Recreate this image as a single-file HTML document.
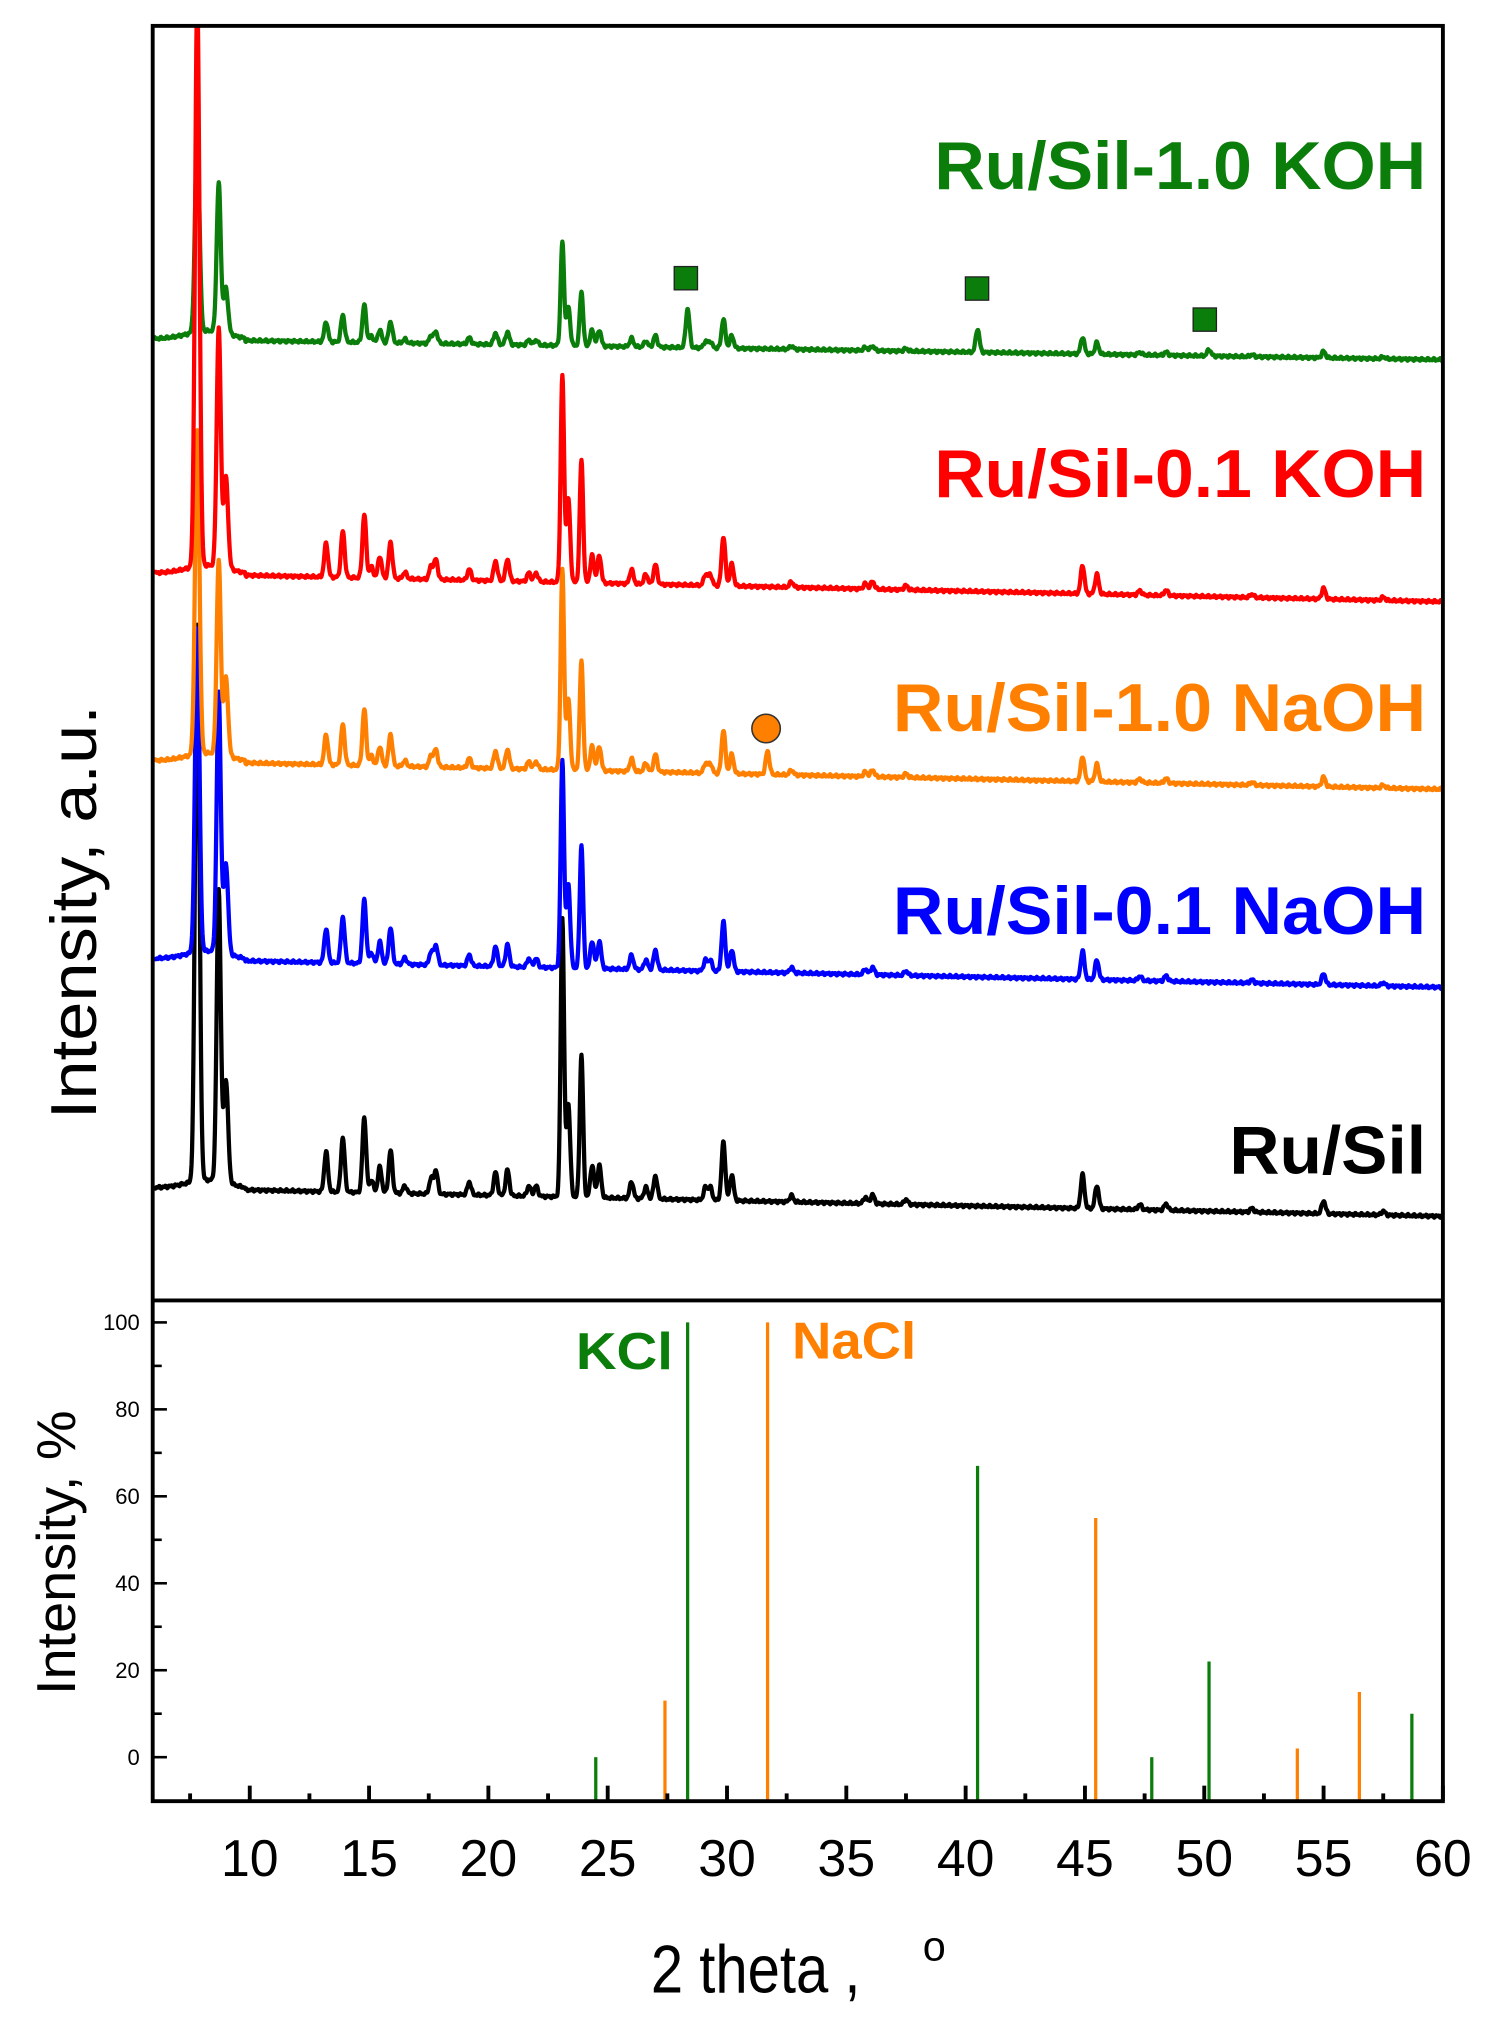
<!DOCTYPE html>
<html><head><meta charset="utf-8">
<style>
html,body{margin:0;padding:0;background:#fff;}
svg{display:block;}
text{font-family:"Liberation Sans",Arial,sans-serif;}
</style></head>
<body>
<svg id="s" width="1512" height="2028" viewBox="0 0 1168.4 1567.3" preserveAspectRatio="none" xmlns="http://www.w3.org/2000/svg">
<defs><clipPath id="cp"><rect x="118" y="20" width="997" height="985"/></clipPath></defs>
<rect x="0" y="0" width="1169" height="1568" fill="#fff"/>
<g id="series" clip-path="url(#cp)"></g>
<g id="sticks"></g>
<rect x="118" y="20" width="997" height="1372" fill="none" stroke="#000" stroke-width="3"/>
<line x1="118" y1="1005" x2="1115" y2="1005" stroke="#000" stroke-width="3"/>
<g id="ticks" stroke="#000" stroke-width="3"></g>
<g id="labels"></g>
<g font-weight="bold" font-size="52" text-anchor="end">
<text x="1102" y="146" fill="#0a7d0a" textLength="380" lengthAdjust="spacingAndGlyphs">Ru/Sil-1.0 KOH</text>
<text x="1102" y="384" fill="#ff0000" textLength="380" lengthAdjust="spacingAndGlyphs">Ru/Sil-0.1 KOH</text>
<text x="1102" y="565" fill="#ff8000" textLength="412" lengthAdjust="spacingAndGlyphs">Ru/Sil-1.0 NaOH</text>
<text x="1102" y="722" fill="#0000ff" textLength="412" lengthAdjust="spacingAndGlyphs">Ru/Sil-0.1 NaOH</text>
<text x="1102" y="907" fill="#000" textLength="152" lengthAdjust="spacingAndGlyphs">Ru/Sil</text>
</g>
<rect x="521" y="206" width="18" height="18" fill="#0a7d0a" stroke="#222" stroke-width="1"/>
<rect x="746" y="214" width="18" height="18" fill="#0a7d0a" stroke="#222" stroke-width="1"/>
<rect x="922" y="238" width="18" height="18" fill="#0a7d0a" stroke="#222" stroke-width="1"/>
<circle cx="592" cy="563" r="11" fill="#ff8000" stroke="#333" stroke-width="1.2"/>
<text x="445" y="1058" fill="#0a7d0a" font-weight="bold" font-size="40" textLength="75" lengthAdjust="spacingAndGlyphs">KCl</text>
<text x="612" y="1050" fill="#ff8000" font-weight="bold" font-size="40" textLength="96" lengthAdjust="spacingAndGlyphs">NaCl</text>
<text transform="translate(74,705) rotate(-90)" font-size="50" text-anchor="middle" textLength="320" lengthAdjust="spacingAndGlyphs">Intensity, a.u.</text>
<text transform="translate(58,1200) rotate(-90)" font-size="42" text-anchor="middle" textLength="220" lengthAdjust="spacingAndGlyphs">Intensity, %</text>
<text x="503" y="1540" font-size="52" textLength="162" lengthAdjust="spacingAndGlyphs">2 theta ,</text>
<text x="722" y="1515" font-size="32" text-anchor="middle">o</text>
</svg>
<script>
var NS="http://www.w3.org/2000/svg";
function px(x){return 193+(x-10)*18.44;}
function el(t,a,p,txt){var e=document.createElementNS(NS,t);for(var k in a)e.setAttribute(k,a[k]);if(txt!==undefined)e.textContent=txt;p.appendChild(e);return e;}
var common=[[13.2,31],[13.9,42],[14.8,58],[15.1,10],[15.45,20],[15.9,33],[16.5,6],[17.6,12],[17.8,18],[19.2,10],[20.3,18],[20.8,20],[21.7,8],[22.0,8],[24.35,25],[24.65,25],[26.0,13],[26.6,9],[27.0,18],[29.1,10],[29.3,10],[29.85,45],[30.2,20],[32.7,5],[35.8,5],[36.1,7],[37.5,4],[44.9,26],[45.5,18],[47.3,4],[48.4,5],[52.0,3],[55.0,10],[57.5,3]];
function build(base0,base1,big,sc,extra){
  var peaks=[[7.8,big[0],0.13],[8.7,big[1],0.12],[9.0,big[2],0.13],[23.1,big[3],0.1],[23.35,big[4],0.11],[23.9,big[5],0.1]];
  common.forEach(function(c){peaks.push([c[0],c[1]*sc,0.11]);});
  (extra||[]).forEach(function(c){peaks.push([c[0],c[1],0.11]);});
  var d="";
  for(var x=6;x<=60.0001;x+=0.02){
    var t=(x-6)/54;
    var b=base0+(base1-base0)*t;
    if(x<9.8) b-= 7*Math.exp(-Math.pow((x-8.3)/1.3,2));
    var y=b;
    for(var i=0;i<peaks.length;i++){var p=peaks[i];var u=(x-p[0])/p[2];if(Math.abs(u)<6)y-=p[1]*Math.exp(-u*u);}
    y+=1.2*Math.sin(x*37.1+base0)*Math.sin(x*11.3);
    d+=(d?"L":"M")+px(x).toFixed(2)+","+y.toFixed(2);
  }
  return d;
}
var g=document.getElementById("series");
var defs=[
 ["#0a7d0a",262,278,[156,115,35,80,30,42],0.5,[[28.35,30],[40.5,18],[50.2,5]]],
 ["#000",918,940,[430,225,80,215,72,110],1.0,[]],
 ["#0000ff",741,763,[250,200,70,160,65,95],0.85,[]],
 ["#ff8000",588,610,[250,150,60,155,55,85],0.75,[[31.7,18]]],
 ["#ff0000",443,465,[440,185,70,160,65,95],0.85,[]]
];
defs.forEach(function(s){el("path",{d:build(s[1],s[2],s[3],s[4],s[5]),fill:"none",stroke:s[0],"stroke-width":3.3,"stroke-linejoin":"round"},g);});
function py(v){return 1358-v*3.36;}
var st=document.getElementById("sticks");
[[24.5,0],[28.35,100],[40.5,67],[47.8,0],[50.2,22],[58.7,10]].forEach(function(s){el("line",{x1:px(s[0]),x2:px(s[0]),y1:1392,y2:py(s[1]),stroke:"#0a7d0a","stroke-width":2.5},st);});
[[27.4,13],[31.7,100],[45.45,55],[53.9,2],[56.5,15]].forEach(function(s){el("line",{x1:px(s[0]),x2:px(s[0]),y1:1392,y2:py(s[1]),stroke:"#ff8000","stroke-width":2.5},st);});
var tk=document.getElementById("ticks");var lb=document.getElementById("labels");
for(var x=7.5;x<=60;x+=2.5){var maj=(x%5===0);el("line",{x1:px(x),x2:px(x),y1:1392,y2:maj?1380:1386},tk);
 if(maj) el("text",{x:px(x),y:1450,"font-size":40,"text-anchor":"middle"},lb,String(x));}
for(var v=0;v<=100;v+=10){var maj=(v%20===0);el("line",{x1:118,x2:maj?129:125,y1:py(v),y2:py(v),"stroke-width":2},tk);
 if(maj) el("text",{x:108,y:py(v)+6,"font-size":17,"text-anchor":"end"},lb,String(v));}
</script>
</body></html>
